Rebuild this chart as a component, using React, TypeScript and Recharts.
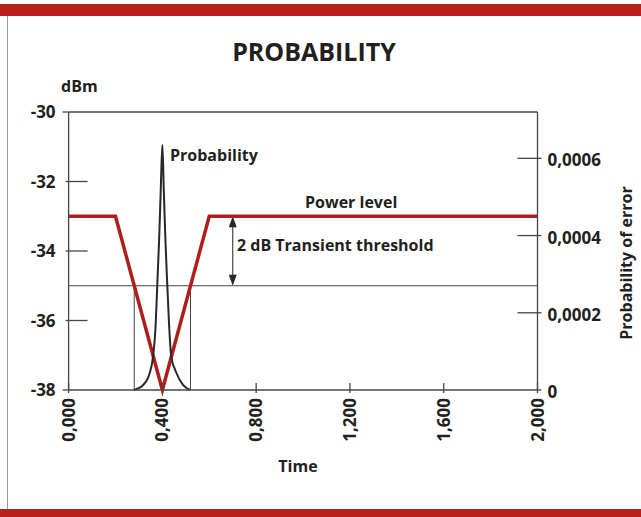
import React from 'react'
import { LineChart, Line, XAxis, YAxis, ReferenceLine } from 'recharts'

// axes
const timeTicks = [0, 0.4, 0.8, 1.2, 1.6, 2.0]
const dbmTicks = [-38, -36, -34, -32, -30]
const errorTicks = [0, 0.0002, 0.0004, 0.0006]

// power level (dBm) over time
const powerTime = [0, 0.2, 0.4, 0.6, 2.0]
const powerDbm = [-33, -33, -38, -33, -33]

// probability of error around the dip
const probTime = [0.278, 0.318, 0.346, 0.36, 0.371, 0.379, 0.386, 0.393, 0.4, 0.406, 0.413, 0.42, 0.429, 0.438, 0.46, 0.488, 0.518]
const probError = [0, 0.000013, 0.000044, 0.000086, 0.000164, 0.000285, 0.000388, 0.000518, 0.000635, 0.000518, 0.000388, 0.000285, 0.000164, 0.000086, 0.000044, 0.000013, 0]

// threshold annotation
const levelDbm = -33
const thresholdDbm = -35
const floorDbm = -38
const crossTimes = [0.28, 0.52]
const arrowTime = 0.7

const powerData = powerTime.map((t, i) => ({ t, v: powerDbm[i] }))
const probData = probTime.map((t, i) => ({ t, p: probError[i] }))

const FONT = '"Open Sans", "Noto Sans", sans-serif'
const TEXT = '#231f20'
const AXIS = '#4a4545'
const RED = '#b01e1c'
const BAND = '#b8201a'

function LeftTick(props: any) {
  const { x, y, payload } = props
  const v = payload.value
  const inner = v > -38 && v < -30
  return (
    <g>
      <line x1={inner ? x - 3 : x - 6} x2={inner ? x + 19 : x} y1={y} y2={y} stroke={AXIS} strokeWidth={1.3} />
      <text x={x - 13} y={y} dy="0.36em" textAnchor="end" fontFamily={FONT} fontWeight={700} fontSize={17} fill={TEXT}>
        {v}
      </text>
    </g>
  )
}

function RightTick(props: any) {
  const { x, y, payload } = props
  const v = payload.value
  const label = v === 0 ? '0' : v.toFixed(4).replace('.', ',')
  return (
    <g>
      <line x1={v === 0 ? x : x - 20} x2={x + 4} y1={y} y2={y} stroke={AXIS} strokeWidth={1.3} />
      <text x={x + 10} y={y + 2} dy="0.36em" textAnchor="start" fontFamily={FONT} fontWeight={700} fontSize={17} fill={TEXT}>
        {label}
      </text>
    </g>
  )
}

function TimeTick(props: any) {
  const { x, y, payload } = props
  const v = payload.value
  const ty = y + 8
  return (
    <g>
      <line x1={x} x2={x} y1={y - 7} y2={y + 3} stroke={AXIS} strokeWidth={1.3} />
      <text x={x} y={ty} dy="0.36em" textAnchor="end" transform={`rotate(-90, ${x}, ${ty})`}
        fontFamily={FONT} fontWeight={700} fontSize={17} fill={TEXT}>
        {v.toFixed(3).replace('.', ',')}
      </text>
    </g>
  )
}

function Arrow(props: any) {
  const { x1, y1, x2, y2 } = props
  const top = Math.min(y1, y2)
  const bot = Math.max(y1, y2)
  const x = (x1 + x2) / 2
  return (
    <g>
      <line x1={x} x2={x} y1={top + 6} y2={bot - 6} stroke={AXIS} strokeWidth={1.2} />
      <polygon points={`${x},${top} ${x - 4},${top + 11} ${x + 4},${top + 11}`} fill="#2a2626" />
      <polygon points={`${x},${bot} ${x - 4},${bot - 11} ${x + 4},${bot - 11}`} fill="#2a2626" />
    </g>
  )
}

function Txt({ x, y, children, size = 16, weight = 700, anchor = 'start', rotate = 0 }: any) {
  const tx = anchor === 'middle' ? '-50%' : anchor === 'end' ? '-100%' : '0'
  return (
    <div style={{
      position: 'absolute', left: x, top: y, whiteSpace: 'nowrap', fontSize: size, fontWeight: weight,
      lineHeight: 1, transform: `translate(${tx}, -50%) rotate(${rotate}deg)`, transformOrigin: anchor === 'middle' ? 'center' : 'left center',
    }}>{children}</div>
  )
}

export default function App() {
  return (
    <div style={{ position: 'absolute', left: 0, top: 0, width: 641, height: 517, background: '#fff', fontFamily: FONT, color: TEXT, overflow: 'hidden' }}>
      <div style={{ position: 'absolute', left: 0, top: 4, width: 641, height: 12, background: BAND }} />
      <div style={{ position: 'absolute', left: 0, top: 509, width: 641, height: 8, background: BAND }} />
      <div style={{ position: 'absolute', left: 7, top: 16, width: 1, height: 493, background: '#9a9a9a' }} />

      <div style={{ position: 'absolute', left: 0, top: 0 }}>
        <LineChart width={641} height={517} margin={{ top: 112, right: 0, bottom: 0, left: 0 }}>
          <XAxis dataKey="t" type="number" domain={[0, 2]} ticks={timeTicks} height={127}
            stroke={AXIS} strokeWidth={1.3} tickSize={0} tickMargin={0} tickLine={false} tick={<TimeTick />} />
          <YAxis yAxisId="left" type="number" domain={[-38, -30]} ticks={dbmTicks} width={68.6}
            stroke={AXIS} strokeWidth={1.3} tickSize={0} tickMargin={0} tickLine={false} tick={<LeftTick />} />
          <YAxis yAxisId="right" orientation="right" type="number" domain={[0, 0.00072]} ticks={errorTicks} width={103.5}
            stroke={AXIS} strokeWidth={1.3} tickSize={0} tickMargin={0} tickLine={false} tick={<RightTick />} />

          <ReferenceLine yAxisId="left" y={-30} stroke={AXIS} strokeWidth={1.3} />
          <ReferenceLine yAxisId="left" y={thresholdDbm} stroke={AXIS} strokeWidth={1.1} />
          {crossTimes.map((t) => (
            <ReferenceLine key={t} yAxisId="left" segment={[{ x: t, y: thresholdDbm }, { x: t, y: floorDbm }]} stroke={AXIS} strokeWidth={1} />
          ))}
          <ReferenceLine yAxisId="left" segment={[{ x: arrowTime, y: levelDbm }, { x: arrowTime, y: thresholdDbm }]} shape={<Arrow />} />

          <Line yAxisId="left" data={powerData} dataKey="v" type="linear" stroke={RED} strokeWidth={3.5}
            dot={false} isAnimationActive={false} strokeLinejoin="miter" />
          <Line yAxisId="right" data={probData} dataKey="p" type="monotone" stroke="#2b2727" strokeWidth={2}
            dot={false} isAnimationActive={false} />
        </LineChart>
      </div>

      <Txt x={314} y={51} size={25} anchor="middle">PROBABILITY</Txt>
      <Txt x={61} y={86}>dBm</Txt>
      <Txt x={170} y={155}>Probability</Txt>
      <Txt x={305} y={202}>Power level</Txt>
      <Txt x={237} y={245}>2 dB Transient threshold</Txt>
      <Txt x={298} y={466} anchor="middle">Time</Txt>
      <Txt x={626} y={263} anchor="middle" rotate={-90}>Probability of error</Txt>
    </div>
  )
}
